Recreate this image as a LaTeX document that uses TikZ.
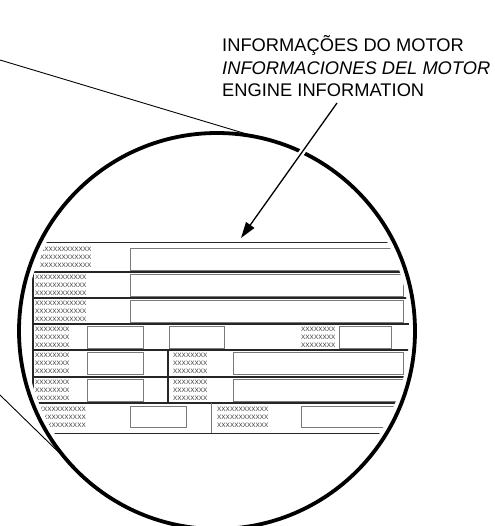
\documentclass[tikz,border=0pt]{standalone}
\usepackage{fontspec}
\setmainfont{Liberation Sans}
\usetikzlibrary{arrows.meta}
\definecolor{mBoxGray}{HTML}{7A7A7A}
\definecolor{mRule}{HTML}{262626}
\newcommand{\xxlab}[1]{#1\\#1\\#1}

\begin{document}
\begin{tikzpicture}[x=1pt, y=-1pt,
    every node/.style={inner sep=0pt},
    field/.style={draw=mBoxGray, line width=0.9pt},
    rule/.style={draw=mRule, line width=1.3pt},
    thinrule/.style={draw=mBoxGray, line width=0.7pt},
    tiny/.style={font=\fontsize{6.4}{8}\selectfont, text=black!80}]
  \useasboundingbox (0,0) rectangle (494,526);

  % lens outline
  \coordinate (lens) at (217,331);
  \coordinate (upA) at (0,60);
  \coordinate (upB) at (250,135);
  \coordinate (loA) at (0,395);
  \coordinate (loB) at (80,473);
  \draw[line width=0.9pt] (upA) -- (upB);
  \draw[line width=0.9pt] (loA) -- (loB);

  % engine info plate, seen through the lens
  \begin{scope}
    \clip (lens) circle[radius=192pt];
    \draw[mRule, line width=0.8pt] (33,242) -- (494,242);
    \foreach \y in {272,298,324,350,377,403}
      \draw[rule] (33,\y) -- (494,\y);
    \draw[mRule, line width=1pt] (33,433) -- (494,433);
    \draw[rule] (33,272) -- (33,403);
    \draw[rule] (168,350) -- (168,403);
    \draw[thinrule] (211,403) -- (211,433);
    % rows 1-3
    \node[tiny, align=left, anchor=west] (r1) at (40,257) {\xxlab{XXXXXXXXXXXX}};
    \node[tiny, align=left, anchor=west] (r2) at (35,285) {\xxlab{XXXXXXXXXXXX}};
    \node[tiny, align=left, anchor=west] (r3) at (35,311) {\xxlab{XXXXXXXXXXXX}};
    \draw[field] (130,248) rectangle (430,270);
    \draw[field] (130,274) rectangle (403,296);
    \draw[field] (130,300) rectangle (403,322);
    % row 4
    \node[tiny, align=left, anchor=west] (r4a) at (35,337) {\xxlab{XXXXXXXX}};
    \node[tiny, align=left, anchor=west] (r4b) at (301,337) {\xxlab{XXXXXXXX}};
    \draw[field] (87,326) rectangle (143,348);
    \draw[field] (169,326) rectangle (224,348);
    \draw[field] (339,326) rectangle (391,348);
    % rows 5-6
    \foreach \y/\t in {352/r5, 379/r6} {
      \node[tiny, align=left, anchor=west] (\t a) at (35,\y+11) {\xxlab{XXXXXXXX}};
      \node[tiny, align=left, anchor=west] (\t b) at (173,\y+11) {\xxlab{XXXXXXXX}};
      \draw[field] (87,\y) rectangle (143,\y+22);
    }
    \draw[field] (233,352) rectangle (403,374);
    \draw[field] (233,379) rectangle (430,401);
    % row 7
    \node[tiny, align=right, anchor=east] (r7a) at (86,417) {\xxlab{XXXXXXXXXXXX}};
    \node[tiny, align=left, anchor=west] (r7b) at (217,417) {\xxlab{XXXXXXXXXXXX}};
    \draw[field] (130,406) rectangle (186,427);
    \draw[field] (301,406) rectangle (430,427);
  \end{scope}

  \draw[line width=3.8pt] (lens) circle[radius=198pt];

  % callout
  \node[anchor=base west, align=left, font=\fontsize{18.3}{22.5}\selectfont] (title) at (222,97)
    {INFORMAÇÕES DO MOTOR\\\textit{INFORMACIONES DEL MOTOR}\\ENGINE INFORMATION};
  \coordinate (arrowFrom) at (337,103);
  \coordinate (arrowTo) at (241,238);
  \draw[white, line width=6pt, shorten <=48pt, shorten >=82pt] (arrowFrom) -- (arrowTo);
  \draw[line width=1.3pt, -{Triangle[length=16pt, width=10pt]}] (arrowFrom) -- (arrowTo);
\end{tikzpicture}
\end{document}
